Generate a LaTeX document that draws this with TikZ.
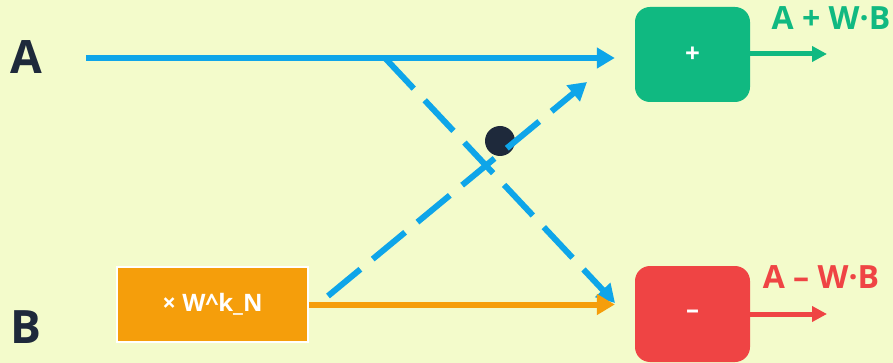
\documentclass[tikz,border=0pt]{standalone}
\usepackage{fontspec}
\setmainfont{Open Sans}
\usepackage{xcolor}
\usetikzlibrary{positioning,arrows.meta}

\definecolor{bgpale}{HTML}{F3FBCB}
\definecolor{inkdark}{HTML}{1E293B}
\definecolor{skyblue}{HTML}{0EA5E9}
\definecolor{sumgreen}{HTML}{10B981}
\definecolor{diffred}{HTML}{EF4444}
\definecolor{twamber}{HTML}{F59E0B}

\begin{document}
\begin{tikzpicture}[
    x=1pt, y=-1pt,
    >={Triangle[length=18pt,width=20pt]},
    inlbl/.style={font=\bfseries\fontsize{46}{50}\selectfont, text=inkdark, inner sep=0pt},
    outlbl/.style={font=\bfseries\fontsize{32}{36}\selectfont, inner sep=0pt},
    opbox/.style={rectangle, rounded corners=15pt, minimum width=115pt, minimum height=95pt, inner sep=0pt, text=white, font=\bfseries\fontsize{26}{28}\selectfont},
    twbox/.style={rectangle, draw=white, fill=twamber, line width=2pt, minimum width=191pt, minimum height=75pt, text=white, font=\bfseries\fontsize{24}{27}\selectfont},
    dot/.style={circle, fill=inkdark, minimum size=30pt, inner sep=0pt},
    wire/.style={->, line width=6pt},
    dashwire/.style={->, line width=6pt, draw=skyblue, dash pattern=on 42pt off 16pt},
    outwire/.style={-{Triangle[length=15pt,width=15pt]}, line width=5pt}
]

% background
\fill[bgpale] (0,0) rectangle (893,363);
\useasboundingbox (0,0) rectangle (893,363);

% inputs
\node[inlbl] (a) at (26,57.5) {A};
\node[inlbl] (b) at (26,327.5) {B};

% twiddle and butterfly outputs
\node[twbox] (tw) at (212.5,304.5) {× W\textasciicircum k\_N};
\node[opbox, fill=sumgreen] (plus) at (692.5,54.5) {+};
\node[opbox, fill=diffred, minimum height=96pt] (minus) at (692.5,314) {–};

\node[outlbl, text=sumgreen] (sumlbl) at (831,18) {A + W·B};
\node[outlbl, text=diffred] (difflbl) at (821,277) {A – W·B};

% junctions
\coordinate (split) at (385,58);
\coordinate (lowtip) at (615,303);
\coordinate (risefoot) at (328,296);
\coordinate (uptip) at (587,82);
\coordinate (sumout) at (827,54);
\coordinate (diffout) at (827,314);

\node[dot] (mul) at (500,141) {};

% === Arrows ===

% A straight to the sum
\draw[wire, draw=skyblue, shorten <=44pt, shorten >=20pt] (a.east |- split) -- (split -| plus.west);
% A crossing down to the difference
\draw[dashwire] (split) -- (lowtip);
% W.B crossing up to the sum
\draw[dashwire] (risefoot) -- (uptip);
% W.B straight to the difference
\draw[wire, draw=twamber, shorten >=20pt] (tw.east) -- (tw.east -| minus.west);

% outputs
\draw[outwire, draw=sumgreen] (plus.east |- sumout) -- (sumout);
\draw[outwire, draw=diffred] (minus.east) -- (diffout);

\end{tikzpicture}
\end{document}
